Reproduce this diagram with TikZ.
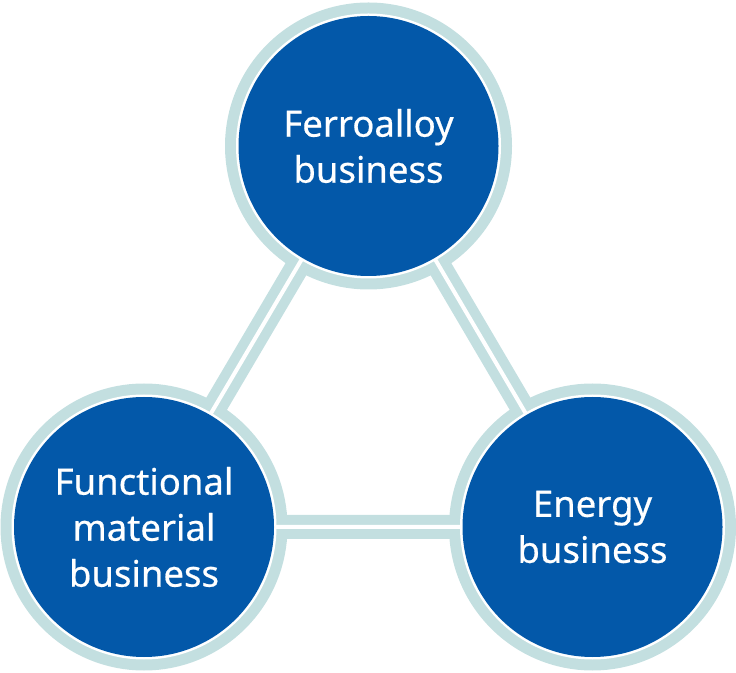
\documentclass[tikz,border=0pt]{standalone}
\usepackage{fontspec}
\setmainfont{Noto Sans}
\newfontfamily\bizfont{Noto Sans}[FakeBold=0.5]
\usepackage{tikz}

\definecolor{bizblue}{RGB}{3,88,169}
\definecolor{ringblue}{RGB}{195,223,224}

\tikzset{
  band/.style={draw=ringblue, line width=24pt},
  gap/.style={draw=white, line width=4pt},
  biz/.style={circle, fill=bizblue, text=white, inner sep=0pt,
    minimum size=260pt, align=center,
    font=\bizfont\fontsize{36.5}{46}\selectfont}
}

\begin{document}
\begin{tikzpicture}[x=1pt,y=1pt]
      \useasboundingbox (0,0) rectangle (736,672);
      \coordinate (ferro) at (368.5,526);
      \coordinate (func) at (144,145);
      \coordinate (energy) at (592.5,145);
      % double connectors
      \draw[band] (ferro) -- (func) -- (energy) -- cycle;
      \foreach \c in {ferro,func,energy}
        \fill[ringblue] (\c) circle (143.5);
      \draw[gap] (ferro) -- (func) -- (energy) -- cycle;
      \foreach \c in {ferro,func,energy}
        \fill[white] (\c) circle (132.5);
      % business discs
      \node[biz] (ferroB) at (ferro) {Ferroalloy\\business};
      \node[biz] (funcB) at (func) {Functional\\material\\business};
      \node[biz] (energyB) at (energy) {Energy\\business};
    \end{tikzpicture}
\end{document}
